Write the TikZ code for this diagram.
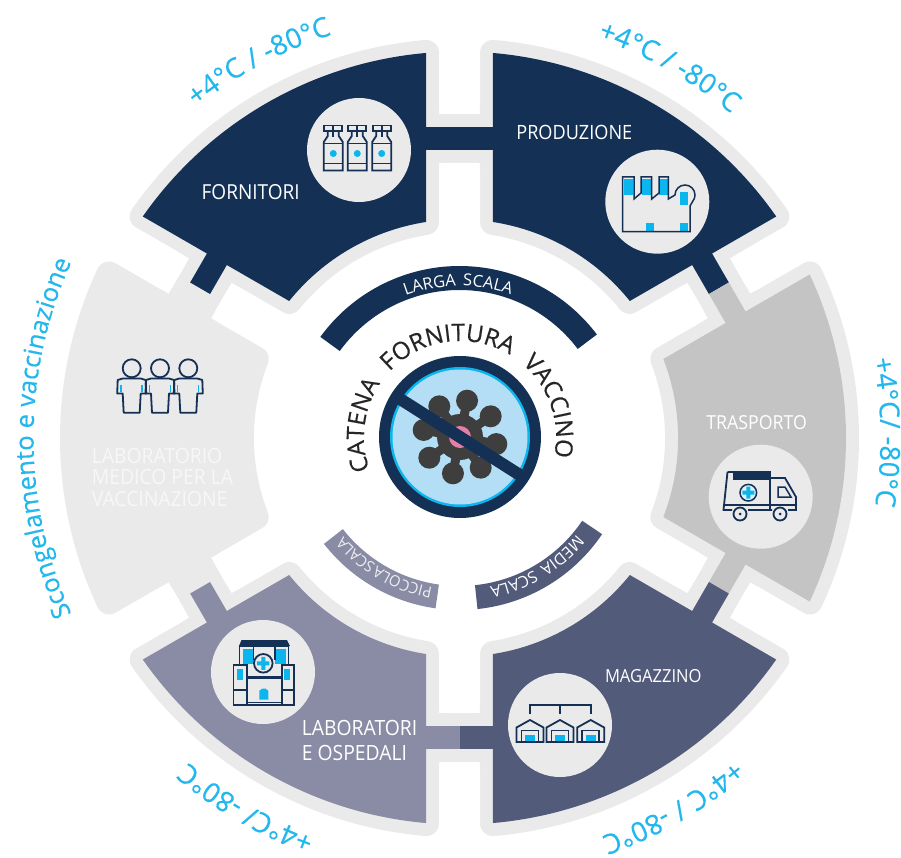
\documentclass[tikz,border=0pt]{standalone}
\usepackage{fontspec}
\setmainfont{Open Sans}
\newfontfamily\tightf[FakeStretch=0.92]{Open Sans}
\newfontfamily\tempf[FakeBold=0.3]{Open Sans}
\newfontfamily\widef[FakeBold=0.4,WordSpace=2.4]{Open Sans}
\newfontfamily\bandf[WordSpace=1.6]{Open Sans}
\newfontfamily\bandtight[FakeStretch=0.95,WordSpace=0.4]{Open Sans}
\usetikzlibrary{decorations.text}
\definecolor{navy}{HTML}{143054}
\definecolor{midgrey}{HTML}{C4C4C4}
\definecolor{slate}{HTML}{535B7A}
\definecolor{lav}{HTML}{8A8CA5}
\definecolor{halo}{HTML}{EAEAEA}
\definecolor{cyantext}{HTML}{22B8EE}
\definecolor{cyanfill}{HTML}{0BB5EE}
\definecolor{paleblue}{HTML}{B4DEF5}
\definecolor{virus}{HTML}{3E3E3E}
\definecolor{pinkcore}{HTML}{E67FA8}
\newcommand{\sectorpath}[1]{({#1+4.97}:386.5pt) arc[start angle={#1+4.97},end angle={#1+55.03},radius=386.5pt] -- ({#1+51.19}:218.6pt) arc[start angle={#1+51.19},end angle={#1+8.81},radius=218.6pt] -- cycle}
% curved text: mid angle, half span, radius, font+colour, text
\newcommand{\curvetext}[5]{\path[decorate,decoration={text along path,text align=center,text={|#4|#5}}] ({#1+#2}:#3pt) arc[start angle={#1+#2},end angle={#1-#2},radius=#3pt];}
\newcommand{\bandpath}[2]{({#1}:172pt) arc[start angle={#1},end angle={#2},radius=172pt] -- ({#2}:148pt) arc[start angle={#2},end angle={#1},radius=148pt] -- cycle}
\newcommand{\vialicon}[1]{%
  \draw[icon] (#1-9,125.5) -- (#1+9,125.5) -- (#1+9,131) -- (#1-9,131) -- cycle;
  \draw[icon] (#1-5.5,131) -- (#1-5.5,136) -- (#1-9.5,142) -- (#1-9.5,170.5) -- (#1+9.5,170.5) -- (#1+9.5,142) -- (#1+5.5,136) -- (#1+5.5,131);
  \draw[icon] (#1,126) -- (#1,137);
  \draw[icon] (#1-9.5,143.5) -- (#1+9.5,143.5) (#1-9.5,163.5) -- (#1+9.5,163.5);
  \fill[cyanfill] (#1,153.5) circle (3.5);}
\newcommand{\houseicon}[1]{%
  \draw[icon] (#1-13.5,742) -- (#1-13.5,727.5) -- (#1,720) -- (#1+13.5,727.5) -- (#1+13.5,742) -- cycle;
  \draw[icon] (#1-8.5,742) -- (#1-8.5,730.5) -- (#1+8.5,730.5) -- (#1+8.5,742);
  \fill[cyanfill] (#1-5,735) rectangle (#1+5,740.5);}
\newcommand{\personicon}[1]{%
  \draw[icon] (#1,368.3) circle (9);
  \draw[icon,line join=round] (#1-9,378.5) -- (#1-14,380) -- (#1-14.5,393.5) -- (#1-9,393.5) -- (#1-8,412.7) -- (#1+8,412.7) -- (#1+9,393.5) -- (#1+14.5,393.5) -- (#1+14,380) -- (#1+9,378.5) -- cycle;
  \draw[cyanfill,line width=1.4pt] (#1-10.5,385) -- (#1-10.5,392) (#1+10.5,385) -- (#1+10.5,392);}
\tikzset{
  x=1pt,y=1pt,
  imgpx/.style={shift={(-459.5,438)},yscale=-1},
  icon/.style={draw=navy,line width=1.8pt,line join=miter},
  lab/.style={text=white,inner sep=0pt,font=\fontsize{#1}{24}\selectfont\tightf},
  lab/.default=20,
  disc/.style={fill=halo},
}
\begin{document}
\begin{tikzpicture}
\useasboundingbox (-459.5,-419) rectangle (441.5,438);
\fill[white] (-459.5,-419) rectangle (441.5,438);
% halo around sectors and bridges
\foreach \a in {30,90,150,210,270,330}{
  \draw[halo,fill=halo,line width=26pt,line join=round] \sectorpath{\a};
  \draw[halo,fill=halo,line width=26pt,line join=round,rotate=\a] (288,-33.5) rectangle (311,33.5);
}
% rounded white pockets on each side of a bridge
\foreach \a in {30,90,150,210,270,330}{
  \fill[white,rounded corners=9pt,rotate=\a] (324,-20.5) rectangle (440,20.5);
  \fill[white,rounded corners=9pt,rotate=\a] (185,-20.5) rectangle (275,20.5);
}
% sectors
\fill[navy] \sectorpath{90};
\fill[navy] \sectorpath{30};
\fill[midgrey] \sectorpath{-30};
\fill[slate] \sectorpath{-90};
\fill[lav] \sectorpath{210};
% bridges
\fill[navy,rotate=90] (288,-34.5) rectangle (311,34.5);
\fill[navy,rotate=30] (288,0) rectangle (311,34.5);
\fill[midgrey,rotate=30] (288,-34.5) rectangle (311,0);
\fill[midgrey,rotate=-30] (288,0) rectangle (311,34.5);
\fill[slate,rotate=-30] (288,-34.5) rectangle (311,0);
\fill[slate,rotate=-90] (288,0) rectangle (311,34.5);
\fill[lav,rotate=-90] (288,-34.5) rectangle (311,0);
\fill[lav,rotate=210] (288,0) rectangle (311,34.5);
\fill[navy,rotate=150] (288,-34.5) rectangle (311,0);
% curved temperature labels
\curvetext{118}{40}{423}{\fontsize{27.5}{30}\selectfont\tempf\color{cyantext}}{+4°C / -80°C}
\curvetext{60.5}{40}{423}{\fontsize{27.5}{30}\selectfont\tempf\color{cyantext}}{+4°C / -80°C}
\curvetext{0.8}{40}{421}{\fontsize{27.5}{30}\selectfont\tempf\color{cyantext}}{+4°C/ -80°C}
\curvetext{-60}{40}{423}{\fontsize{27.5}{30}\selectfont\tempf\color{cyantext}}{+4°C / -80°C}
\curvetext{-120}{40}{423}{\fontsize{27.5}{30}\selectfont\tempf\color{cyantext}}{+4°C/ -80°C}
\curvetext{180}{50}{426}{\fontsize{25.5}{28}\selectfont\tempf\color{cyantext}}{Scongelamento e vaccinazione}
% inner bands
\fill[navy] \bandpath{144}{37};
\fill[slate] \bandpath{-34}{-84};
\fill[lav] \bandpath{-98}{-142};
\curvetext{90.5}{50}{152}{\fontsize{16.5}{18}\selectfont\bandf\color{white}}{LARGA SCALA}
\curvetext{-59}{40}{152}{\fontsize{16}{18}\selectfont\bandf\color{white}}{MEDIA SCALA}
\curvetext{-120}{40}{152}{\fontsize{15.5}{18}\selectfont\bandtight\color{white!85!lav}}{PICCOLA SCALA}
\begin{scope}[imgpx]
  % icon discs
  \fill[disc] (359,150) circle (52);
  \fill[disc] (657.3,201.7) circle (52);
  \fill[disc] (760.7,496.7) circle (52);
  \fill[disc] (560,725) circle (52);
  \fill[disc] (263,672) circle (52);
  % sector labels
  \node[lab=20.7] (fornitori) at (250.7,191.7) {FORNITORI};
  \node[lab=19.7] (produzione) at (574.3,132.3) {PRODUZIONE};
  \node[lab=19.3] (trasporto) at (756.7,422.3) {TRASPORTO};
  \node[lab=18] (magazzino) at (653.3,676) {MAGAZZINO};
  \node[lab=21,anchor=west] (lab1) at (301.7,727.7) {LABORATORI};
  \node[lab=21,anchor=west] (lab2) at (301.7,753) {E OSPEDALI};
  \node[lab=21,anchor=west,text=white!60!halo] (med1) at (91.7,455.7) {LABORATORIO};
  \node[lab=21,anchor=west,text=white!60!halo] (med2) at (91.7,477.3) {MEDICO PER LA};
  \node[lab=21,anchor=west,text=white!60!halo] (med3) at (91.7,499.3) {VACCINAZIONE};
  % vials
  \vialicon{333.3}\vialicon{357.3}\vialicon{381.7}
  % factory
  \fill[cyanfill] (624.3,179) rectangle (633.3,194.5);
  \fill[cyanfill] (641.7,179) rectangle (650.7,194.5);
  \fill[cyanfill] (659.3,179) rectangle (668.3,194.5);
  \fill[cyanfill] (680,191.7) rectangle (687.7,205);
  \fill[cyanfill] (645.7,223.3) rectangle (654,231);
  \fill[cyanfill] (680,223.3) rectangle (687.7,231);
  \draw[icon,line width=1.5pt] (622.7,177) -- (634,177) -- (634,199) -- (641,193) -- (641,177) -- (651.7,177) -- (651.7,199) -- (659,193) -- (659,177) -- (668.3,177) -- (668.3,199) -- (675,195) arc[start angle=180,end angle=400,radius=10] -- (690,206) -- (690,231.7) -- (622.7,231.7) -- cycle;
  % ambulance
  \draw[icon] (727.5,472) -- (770,472) -- (770,509) (727.5,472) -- (723.5,510) -- (732,510) (748,510) -- (772,510) (788,510) -- (796,510) -- (796,497) -- (785,478) -- (770,478);
  \fill[navy] (733,472) rectangle (770,480);
  \draw[icon,line width=1.5pt] (778,487) -- (785,487) -- (791,497) -- (778,497) -- cycle;
  \draw[icon,line width=1.5pt] (724,505) -- (796,505);
  \draw[icon,fill=halo] (740,514) circle (6.5);
  \draw[icon,fill=halo] (780,514) circle (6.5);
  \fill[navy] (740,514) circle (1.5) (780,514) circle (1.5);
  \draw[icon,line width=1.5pt,fill=white!60!paleblue] (748.3,492.7) circle (8.3);
  \fill[cyanfill] (746.3,486.7) rectangle (750.3,498.7) (742.3,490.7) rectangle (754.3,494.7);
  % warehouses
  \draw[icon] (530,714) -- (530,705) -- (590.7,705) -- (590.7,714) (560,705) -- (560,714);
  \houseicon{530}\houseicon{560}\houseicon{590.7}
  % hospital
  \fill[cyanfill] (243.5,649) rectangle (254,663.5);
  \fill[cyanfill] (275,649) rectangle (286,663.5);
  \draw[icon] (239.5,646) rectangle (288.5,677);
  \fill[navy] (241.5,640) -- (287,640) -- (290,646) -- (239,646) -- cycle;
  \draw[icon] (253.5,646) -- (253.5,660) (275,646) -- (275,660);
  \draw[icon,fill=halo] (233.5,665) rectangle (247,705);
  \draw[icon,fill=halo] (282,665) rectangle (294,705);
  \fill[cyanfill] (236.7,668.5) rectangle (243.5,680);
  \fill[cyanfill] (284,668.5) rectangle (290.5,680);
  \draw[icon] (233.5,690) -- (247,690) (282,690) -- (294,690);
  \draw[icon,fill=halo] (247,678.5) rectangle (282,705);
  \fill[cyanfill] (259.5,699.5) -- (259.5,690.5) -- (262.5,688.5) -- (265.5,688.5) -- (268.5,691) -- (268.5,699.5) -- cycle;
  \draw[icon,line width=1.2pt] (247,702.5) -- (282,702.5);
  \draw[icon,fill=halo] (263.3,663.3) circle (9.3);
  \fill[cyanfill] (261.3,656.8) rectangle (265.3,669.8) (257,661.3) rectangle (269.5,665.3);
  % people
  \personicon{131.7}\personicon{160}\personicon{188.3}
  % centre emblem
  \fill[navy] (460,437) circle (81);
  \fill[cyanfill] (460,437) circle (70);
  \fill[paleblue] (460,437) circle (67.5);
  \begin{scope}[shift={(460,437)}]
    \foreach \t in {79,124,169,214,259,304,349,394}{
      \draw[virus,line width=9pt] (0,0) -- (-\t:37);
      \fill[virus] (-\t:37) circle (11);
    }
    \fill[virus] (0,0) circle (23);
    \fill[pinkcore] (0,0) circle (11);
    \fill[navy,rotate=32.4] (-72,-6) rectangle (72,6);
  \end{scope}
\end{scope}
\begin{scope}[shift={(0.5,1)}]
\curvetext{94}{125}{96}{\fontsize{24}{26}\selectfont\widef\color{black!85}}{CATENA FORNITURA VACCINO}
\end{scope}
\end{tikzpicture}
\end{document}
